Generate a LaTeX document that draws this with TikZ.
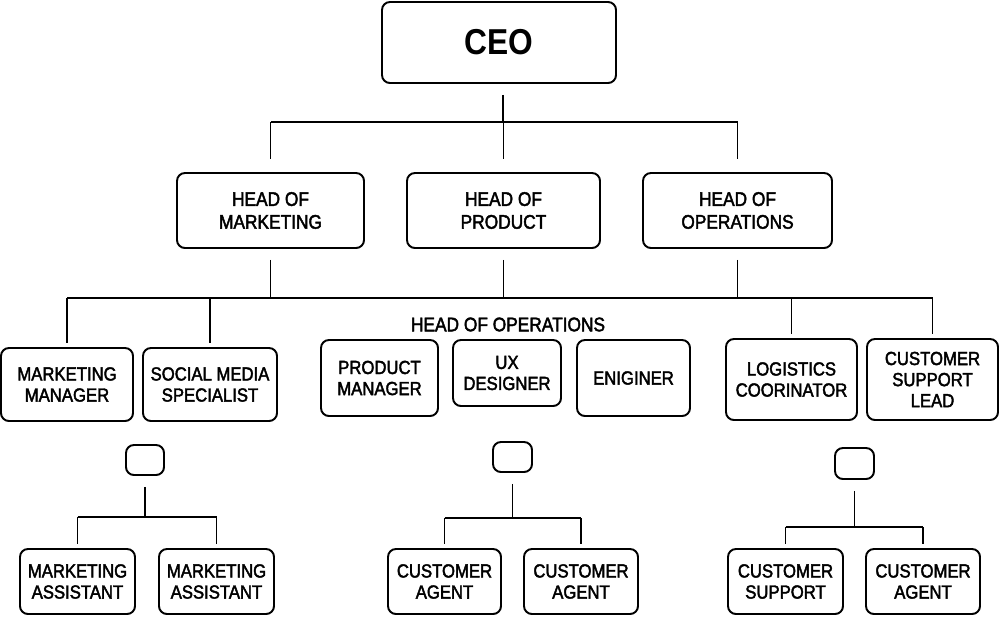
\documentclass[tikz,border=0pt]{standalone}
\usepackage{fontspec}
\setmainfont{Liberation Sans}[FakeStretch=0.88,UprightFeatures={FakeBold=2.2}]
\usepackage{tikz}

\begin{document}
\begin{tikzpicture}[x=0.02cm,y=-0.02cm,
    box/.style={draw,rounded corners=4.5pt,line width=1.1pt,align=center,inner sep=0pt,font=\fontsize{10.8}{12}\selectfont},
    headbox/.style={box,font=\fontsize{11.2}{13}\selectfont},
    sz/.style 2 args={minimum width=#1*0.02cm,minimum height=#2*0.02cm},
    link/.style={line width=1pt},
    gapup/.style={link,shorten <=0.22cm},
    gapdown/.style={link,shorten >=0.08cm}]
    \useasboundingbox (0,0) rectangle (1000,616);
    \node[box,sz={234}{81},font=\fontsize{20.5}{24}\selectfont\bfseries] (ceo) at (499,42.5) {CEO};
    \node[headbox,sz={187}{75}] (hmkt) at (270.5,210.5) {HEAD OF\\MARKETING};
    \node[headbox,sz={193}{75}] (hprod) at (503.5,210.5) {HEAD OF\\PRODUCT};
    \node[headbox,sz={189}{75}] (hops) at (737.5,210.5) {HEAD OF\\OPERATIONS};
    \node[font=\fontsize{11.2}{13}\selectfont] (opslabel) at (508,324.5) {HEAD OF OPERATIONS};
    \node[box,sz={132}{73}] (mktmgr) at (67,384.5) {MARKETING\\MANAGER};
    \node[box,sz={134}{73}] (social) at (210,384.5) {SOCIAL MEDIA\\SPECIALIST};
    \node[box,sz={117}{76}] (prodmgr) at (379.5,378) {PRODUCT\\MANAGER};
    \node[box,sz={108}{66}] (uxdes) at (507,373) {UX\\DESIGNER};
    \node[box,sz={113}{76}] (enginer) at (633.5,378) {ENIGINER};
    \node[box,sz={131}{81}] (logist) at (791.5,379.5) {LOGISTICS\\COORINATOR};
    \node[box,sz={131}{81}] (suplead) at (932.5,379.5) {CUSTOMER\\SUPPORT\\LEAD};
    \node[box,sz={38}{30}] (sqmkt) at (145,460) {};
    \node[box,sz={39}{30}] (sqprod) at (512.5,457) {};
    \node[box,sz={39}{31}] (sqops) at (854.5,463.5) {};
    \node[box,sz={115}{65}] (asst1) at (77.5,581.5) {MARKETING\\ASSISTANT};
    \node[box,sz={115}{65}] (asst2) at (216.5,581.5) {MARKETING\\ASSISTANT};
    \node[box,sz={113}{65}] (agent1) at (444.5,581.5) {CUSTOMER\\AGENT};
    \node[box,sz={114}{65}] (agent2) at (581,581.5) {CUSTOMER\\AGENT};
    \node[box,sz={115}{65}] (support) at (785.5,581.5) {CUSTOMER\\SUPPORT};
    \node[box,sz={114}{65}] (agent3) at (923,581.5) {CUSTOMER\\AGENT};
    \coordinate (topbus) at (503,122);
    \coordinate (midbus) at (503,298);
    \coordinate (mktbus) at (145,517);
    \coordinate (prodbus) at (512.5,518);
    \coordinate (opsbus) at (854.5,527);
    \draw[gapup] (ceo.south -| topbus) -- (topbus);
    \draw[link] (topbus -| hmkt) -- (topbus -| hops);
    \foreach \n in {hmkt,hprod,hops} {
        \draw[link,shorten >=0.26cm] (topbus -| \n) -- (\n.north);
        \draw[gapup] (\n.south) -- (midbus -| \n);
    }
    \draw[link] (midbus -| mktmgr) -- (midbus -| suplead);
    \foreach \n in {mktmgr,social,logist,suplead}
        \draw[gapdown] (midbus -| \n) -- (\n.north);
    \draw[gapup] (sqmkt.south) -- (mktbus);
    \draw[link] (mktbus -| asst1) -- (mktbus -| asst2);
    \draw[gapup] (sqprod.south) -- (prodbus);
    \draw[link] (prodbus -| agent1) -- (prodbus -| agent2);
    \draw[gapup] (sqops.south) -- (opsbus);
    \draw[link] (opsbus -| support) -- (opsbus -| agent3);
    \foreach \n/\b in {asst1/mktbus,asst2/mktbus,agent1/prodbus,agent2/prodbus,support/opsbus,agent3/opsbus}
        \draw[gapdown] (\b -| \n) -- (\n.north);
\end{tikzpicture}
\end{document}
